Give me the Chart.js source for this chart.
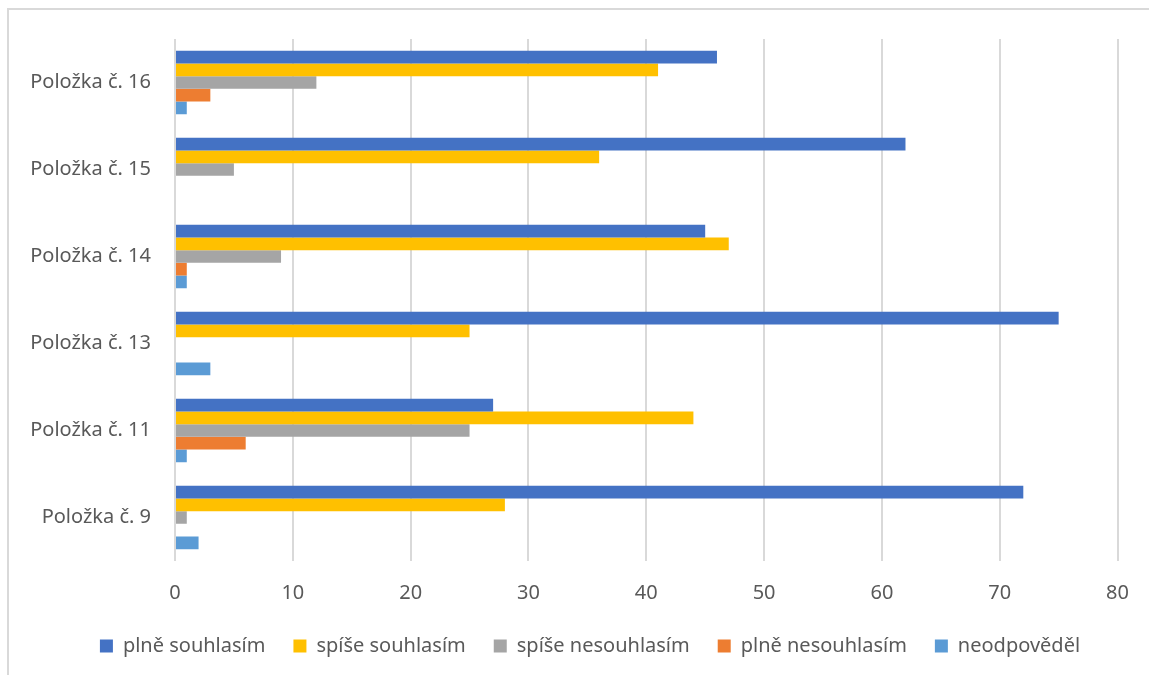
<!DOCTYPE html>
<html lang="cs">
<head>
<meta charset="utf-8">
<script src="https://cdn.jsdelivr.net/npm/chart.js@4"></script>
<style>
    html, body { margin: 0; padding: 0; background: #fff; }
    #wrap { position: absolute; left: 0; top: 0; width: 1149px; height: 675px; }
    #frame { position: absolute; left: 7px; top: 8px; width: 1150px; height: 680px; border: 2px solid #d9d9d9; box-sizing: border-box; }
</style>
</head>
<body>
<div id="wrap">
    <div id="frame"></div>
    <canvas id="polozkyChart" width="1149" height="675"></canvas>
</div>
<script>
// Kategorie (shora dolů) a hodnoty jednotlivých odpovědí
const polozky = ['Položka č. 16', 'Položka č. 15', 'Položka č. 14', 'Položka č. 13', 'Položka č. 11', 'Položka č. 9'];
const plneSouhlasim     = [46, 62, 45, 75, 27, 72];
const spiseSouhlasim    = [41, 36, 47, 25, 44, 28];
const spiseNesouhlasim  = [12, 5, 9, 0, 25, 1];
const plneNesouhlasim   = [3, 0, 1, 0, 6, 0];
const neodpovedel       = [1, 0, 1, 3, 1, 2];
const osaX = [0, 10, 20, 30, 40, 50, 60, 70, 80];

// legenda je v originále posunutá trochu doprava
const posunLegendy = {
    id: 'posunLegendy',
    afterLayout(chart) {
        chart.legend.left += 20;
        chart.legend.right += 20;
    }
};

document.addEventListener("DOMContentLoaded", () => {
    const canvas = document.getElementById("polozkyChart");
    const ctx = canvas.getContext("2d");

    Chart.defaults.font.family = "'Noto Sans', 'Open Sans', sans-serif";
    Chart.defaults.color = '#595959';

    new Chart(ctx, {
        type: 'bar',
        data: {
            labels: polozky,
            datasets: [
                { label: 'plně souhlasím',     data: plneSouhlasim,    backgroundColor: '#4472c4' },
                { label: 'spíše souhlasím',    data: spiseSouhlasim,   backgroundColor: '#ffc000' },
                { label: 'spíše nesouhlasím',  data: spiseNesouhlasim, backgroundColor: '#a5a5a5' },
                { label: 'plně nesouhlasím',   data: plneNesouhlasim,  backgroundColor: '#ed7d31' },
                { label: 'neodpověděl',        data: neodpovedel,      backgroundColor: '#5b9bd5' }
            ]
        },
        options: {
            indexAxis: 'y',
            responsive: false,
            animation: false,
            datasets: {
                bar: { categoryPercentage: 0.73, barPercentage: 1.0 }
            },
            layout: {
                padding: { left: 20, right: 29, top: 39, bottom: 9 }
            },
            scales: {
                x: {
                    min: osaX[0],
                    max: osaX[osaX.length - 1],
                    ticks: { stepSize: 10, padding: 20, font: { size: 20 } },
                    grid: { color: '#d9d9d9', lineWidth: 2, drawTicks: false },
                    border: { display: false },
                    afterFit: (scale) => { scale.height = 47; }
                },
                y: {
                    grid: { display: false },
                    border: { display: false },
                    ticks: { padding: 16, font: { size: 20 } },
                    afterFit: (scale) => { scale.width = 155; }
                }
            },
            plugins: {
                legend: {
                    position: 'bottom',
                    labels: {
                        boxWidth: 13,
                        boxHeight: 13,
                        padding: 28,
                        font: { size: 20 }
                    }
                },
                tooltip: { enabled: false }
            }
        },
        plugins: [posunLegendy]
    });
});
</script>
</body>
</html>
